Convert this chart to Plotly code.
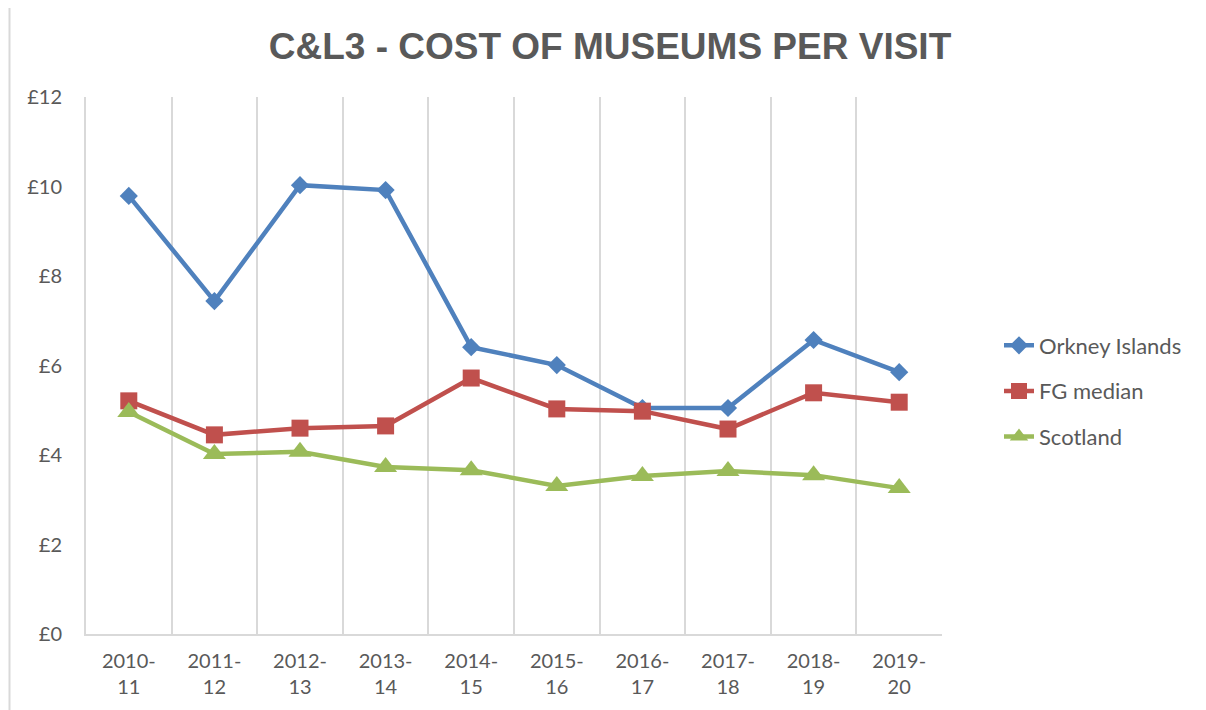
import plotly.graph_objects as go

categories = ["2010-<br>11", "2011-<br>12", "2012-<br>13", "2013-<br>14", "2014-<br>15",
              "2015-<br>16", "2016-<br>17", "2017-<br>18", "2018-<br>19", "2019-<br>20"]
orkney = [9.79, 7.44, 10.03, 9.92, 6.41, 6.01, 5.05, 5.05, 6.57, 5.85]
fg_median = [5.21, 4.45, 4.60, 4.65, 5.72, 5.03, 4.98, 4.58, 5.39, 5.18]
scotland = [4.96, 4.02, 4.07, 3.73, 3.66, 3.31, 3.53, 3.64, 3.55, 3.26]
y_ticks = [0, 2, 4, 6, 8, 10, 12]
y_labels = ["£" + str(v) for v in y_ticks]

fig = go.Figure()
fig.add_trace(go.Scatter(x=categories, y=orkney, name="Orkney Islands", mode="lines+markers",
                         legendgroup="a",
                         line=dict(color="#4F81BD", width=4.5),
                         marker=dict(symbol="diamond", size=14, color="#4F81BD")))
fig.add_trace(go.Scatter(x=categories, y=fg_median, name="FG median", mode="lines+markers",
                         legendgroup="b",
                         line=dict(color="#C0504D", width=4.5),
                         marker=dict(symbol="square", size=17, color="#C0504D")))
fig.add_trace(go.Scatter(x=categories, y=scotland, name="Scotland", mode="lines+markers",
                         legendgroup="c",
                         line=dict(color="#9BBB59", width=4.5),
                         marker=dict(symbol="triangle-up", size=20, color="#9BBB59")))

# page body has ~8px margin; compensate so plot area lands at x 86..942, y 97..634
OFF = 8
W, H = 1206, 710
L, T = 86 - OFF, 97 - OFF
pw, ph = 856, 537
R = W - L - pw
B = H - T - ph

fig.update_layout(
    width=W, height=H,
    margin=dict(l=L, r=R, t=T, b=B, autoexpand=False),
    paper_bgcolor="white", plot_bgcolor="white",
    font=dict(family="Lato, Liberation Sans, sans-serif", color="#595959"),
    title=dict(text="<b>C&amp;L3 - COST OF MUSEUMS PER VISIT</b>", x=(610 - OFF) / W, xanchor="center",
               y=1 - (46 - OFF) / H, yanchor="middle",
               font=dict(family="Liberation Sans, Arial, sans-serif", size=37, color="#595959")),
    legend=dict(x=(999 - 86) / pw, xanchor="left", y=(634 - 391) / ph, yanchor="middle",
                font=dict(size=22, color="#595959"), tracegroupgap=14, traceorder="grouped"),
    showlegend=True,
)
fig.update_xaxes(type="category", tickson="boundaries", showgrid=True, gridcolor="#D9D9D9",
                 gridwidth=2, showline=True, linecolor="#D9D9D9", linewidth=2,
                 ticks="outside", ticklen=0, tickfont=dict(size=20, color="#595959"),
                 ticklabelstandoff=8, range=[-0.5, 9.5])
fig.update_yaxes(range=[0, 12], tickvals=y_ticks, ticktext=y_labels, showgrid=False,
                 showline=True, linecolor="#D9D9D9", linewidth=2, zeroline=False,
                 tickfont=dict(size=20, color="#595959"), ticklabelstandoff=18)

# chart border (left and top edges visible)
x_left = (9.5 - 86) / pw
y_top = (634 - 6) / ph
fig.add_shape(type="line", xref="paper", yref="paper", x0=x_left, x1=x_left, y0=-0.3, y1=y_top,
              line=dict(color="#D9D9D9", width=2))
fig.add_shape(type="line", xref="paper", yref="paper", x0=x_left, x1=1.5, y0=y_top, y1=y_top,
              line=dict(color="#D9D9D9", width=2))

fig.write_html("out.html")
